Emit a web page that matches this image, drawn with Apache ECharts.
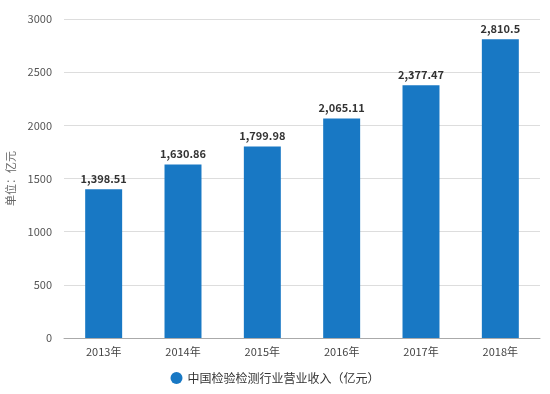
<!DOCTYPE html>
<html><head><meta charset="utf-8">
<script src="https://cdn.jsdelivr.net/npm/echarts@6/dist/echarts.min.js"></script>
<style>html,body{margin:0;padding:0;background:#fff}#c{width:550px;height:394px}</style>
</head><body><div id="c"></div>
<script>
const categories = ['2013年','2014年','2015年','2016年','2017年','2018年'];
const revenue = [1398.51, 1630.86, 1799.98, 2065.11, 2377.47, 2810.5];
const seriesName = '中国检验检测行业营业收入（亿元）';
const yTicks = [0, 500, 1000, 1500, 2000, 2500, 3000];

const chart = echarts.init(document.getElementById('c'));
chart.setOption({
  animation: false,
  textStyle: {fontFamily: '"Noto Sans CJK SC", "Noto Sans", sans-serif'},
  grid: {left: 64, right: 10, top: 19, bottom: 56, containLabel: false, outerBoundsMode: 'none'},
  legend: {
    bottom: 5, left: 'center', icon: 'circle', itemWidth: 12, itemHeight: 12,
    textStyle: {color: '#333', fontSize: 12},
    data: [seriesName]
  },
  xAxis: {
    type: 'category', data: categories,
    axisLine: {lineStyle: {color: '#aaa'}},
    axisTick: {alignWithLabel: true, length: 4, lineStyle: {color: '#aaa'}},
    axisLabel: {color: '#444', fontSize: 11, margin: 8}
  },
  yAxis: {
    type: 'value', min: yTicks[0], max: yTicks[yTicks.length-1], interval: 500,
    name: '单位：亿元', nameLocation: 'middle', nameGap: 44, nameRotate: 90,
    nameTextStyle: {color: '#666', fontSize: 11},
    axisLine: {show: false}, axisTick: {show: false},
    axisLabel: {color: '#555', fontSize: 11, margin: 12, formatter: v => String(v)},
    splitLine: {lineStyle: {color: '#ddd'}}
  },
  series: [{
    name: seriesName, type: 'bar', data: revenue, barWidth: '46.6%',
    itemStyle: {color: '#1878c4'},
    label: {
      show: true, position: 'top', color: '#333', fontWeight: 'bold', fontSize: 11,
      formatter: p => p.value.toLocaleString('en-US', {maximumFractionDigits: 2})
    }
  }]
});
</script></body></html>
